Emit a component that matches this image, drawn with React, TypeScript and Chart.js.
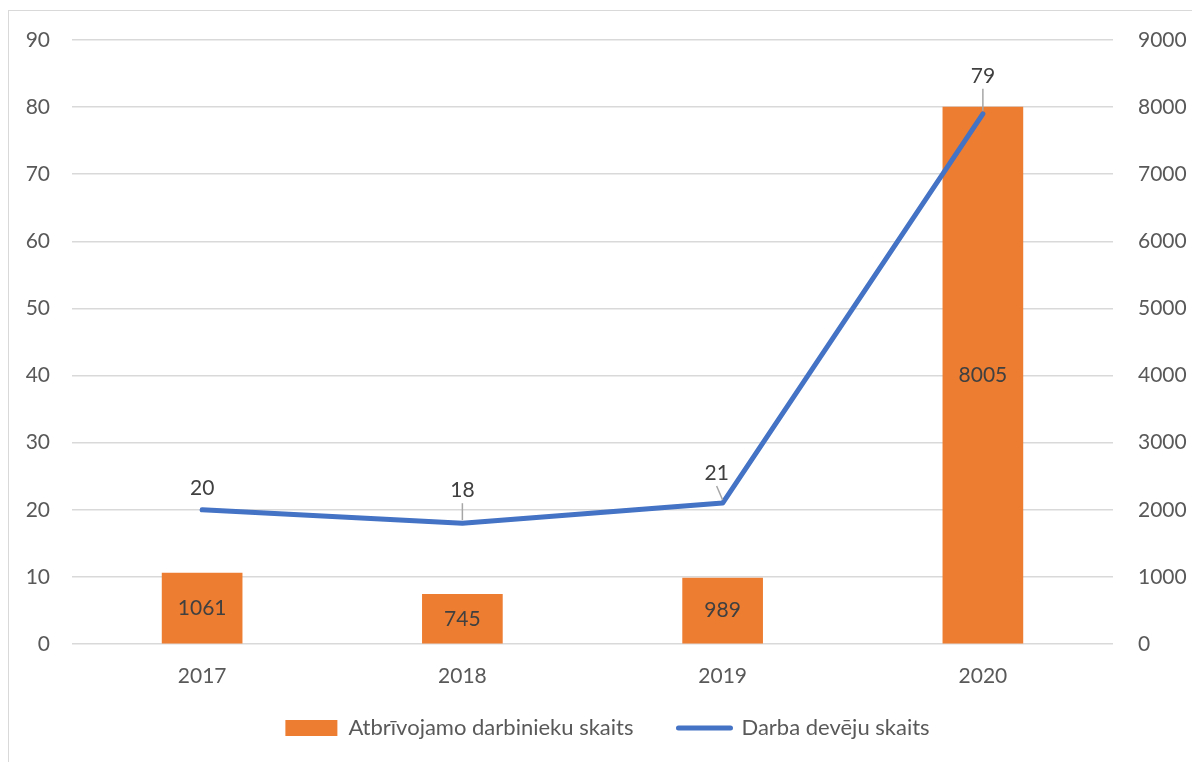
import React, { useEffect, useRef } from 'react';
import { Chart, registerables } from 'chart.js';

Chart.register(...registerables);

const categories = ['2017', '2018', '2019', '2020'];
const releasedWorkers = [1061, 745, 989, 8005];
const employers = [20, 18, 21, 79];
const barLabel = 'Atbrīvojamo darbinieku skaits';
const lineLabel = 'Darba devēju skaits';

// label placement styling for line values (dx, dy from point) and leader lines
const lineLabelOffsets = [[0, -22], [0, -33], [-6, -30], [0, -38]];
const lineLabelLeaders = [false, true, true, true];

const FONT = 'Lato';
const TICK_COLOR = '#595959';
const LABEL_COLOR = '#404040';
const ORANGE = '#ED7D31';
const BLUE = '#4472C4';

const labelPlugin = {
  id: 'valueLabels',
  afterDatasetsDraw(chart: any) {
    const ctx = chart.ctx;
    ctx.save();
    ctx.textAlign = 'center';
    ctx.textBaseline = 'middle';

    // category labels under the x axis
    const xScale = chart.scales.x;
    ctx.font = `21px ${FONT}`;
    ctx.fillStyle = TICK_COLOR;
    categories.forEach((c, i) => {
      ctx.fillText(c, xScale.getPixelForValue(i), chart.chartArea.bottom + 32);
    });

    ctx.fillStyle = LABEL_COLOR;
    const barMeta = chart.getDatasetMeta(1);
    barMeta.data.forEach((el: any, i: number) => {
      const { x, y, base } = el.getProps(['x', 'y', 'base'], true);
      ctx.fillText(String(releasedWorkers[i]), x, (y + base) / 2);
    });
    const lineMeta = chart.getDatasetMeta(0);
    lineMeta.data.forEach((pt: any, i: number) => {
      const [dx, dy] = lineLabelOffsets[i];
      const lx = pt.x + dx;
      const ly = pt.y + dy;
      if (lineLabelLeaders[i]) {
        ctx.save();
        ctx.strokeStyle = '#a6a6a6';
        ctx.lineWidth = 1.5;
        ctx.beginPath();
        ctx.moveTo(lx, ly + 13);
        ctx.lineTo(pt.x, pt.y - 3);
        ctx.stroke();
        ctx.restore();
      }
      ctx.fillText(String(employers[i]), lx, ly);
    });
    ctx.restore();
  },
};

export default function App() {
  const canvasRef = useRef<HTMLCanvasElement | null>(null);

  useEffect(() => {
    if (!canvasRef.current) return;
    Chart.defaults.font.family = FONT;
    Chart.defaults.font.size = 21;
    Chart.defaults.color = TICK_COLOR;
    const chart = new Chart(canvasRef.current, {
      type: 'bar',
      data: {
        labels: categories,
        datasets: [
          {
            type: 'line',
            label: lineLabel,
            data: employers,
            borderColor: BLUE,
            backgroundColor: BLUE,
            borderWidth: 5,
            pointRadius: 0,
            tension: 0,
            borderCapStyle: 'round',
            borderJoinStyle: 'round',
            yAxisID: 'y',
            order: 0,
          } as any,
          {
            type: 'bar',
            label: barLabel,
            data: releasedWorkers,
            backgroundColor: ORANGE,
            borderWidth: 0,
            yAxisID: 'y1',
            categoryPercentage: 1,
            barPercentage: 0.31,
            order: 1,
          } as any,
        ],
      },
      options: {
        animation: false,
        responsive: false,
        maintainAspectRatio: false,
        layout: { padding: { top: 29, bottom: 13, left: 14, right: 0 } },
        plugins: {
          tooltip: { enabled: false },
          legend: {
            position: 'bottom',
            labels: {
              usePointStyle: true,
              pointStyleWidth: 52,
              boxHeight: 16,
              padding: 45,
              color: TICK_COLOR,
              font: { family: FONT, size: 22 },
              generateLabels: () => [
                {
                  text: barLabel,
                  fillStyle: ORANGE,
                  strokeStyle: ORANGE,
                  lineWidth: 0,
                  pointStyle: 'rect',
                  hidden: false,
                  datasetIndex: 1,
                  fontColor: TICK_COLOR,
                },
                {
                  text: lineLabel,
                  fillStyle: BLUE,
                  strokeStyle: BLUE,
                  lineWidth: 5,
                  lineCap: 'round',
                  pointStyle: 'line',
                  hidden: false,
                  datasetIndex: 0,
                  fontColor: TICK_COLOR,
                },
              ] as any,
            },
          },
        },
        scales: {
          x: {
            offset: true,
            grid: { display: false, drawTicks: false },
            border: { display: false },
            ticks: { display: false },
            afterFit: (s: any) => { s.height = 28; },
          },
          y: {
            position: 'left',
            min: 0,
            max: 90,
            grid: {
              color: '#d9d9d9',
              lineWidth: 1.5,
              drawTicks: true,
              tickLength: 19,
              tickColor: 'rgba(0,0,0,0)',
            },
            border: { display: false },
            ticks: { stepSize: 10, padding: 3, color: TICK_COLOR, font: { family: FONT, size: 21 } },
            afterFit: (s: any) => { s.width = 49; },
          },
          y1: {
            position: 'right',
            min: 0,
            max: 9000,
            grid: {
              drawOnChartArea: false,
              drawTicks: true,
              tickLength: 22,
              tickColor: 'rgba(0,0,0,0)',
            },
            border: { display: false },
            ticks: {
              stepSize: 1000,
              padding: 3,
              color: TICK_COLOR,
              font: { family: FONT, size: 21 },
              callback: (v: any) => String(v),
            },
            afterFit: (s: any) => { s.width = 79; },
          },
        },
      },
      plugins: [labelPlugin],
    } as any);
    return () => chart.destroy();
  }, []);

  return (
    <div style={{ position: 'fixed', inset: 0, overflow: 'hidden', background: '#fff' }}>
      <div
        style={{
          position: 'absolute',
          left: 8,
          top: 10,
          width: 1200,
          height: 800,
          border: '1px solid #d9d9d9',
          boxSizing: 'border-box',
        }}
      />
      <canvas
        ref={canvasRef}
        width={1183}
        height={751}
        style={{ position: 'absolute', left: 9, top: 11, width: 1183, height: 751 }}
      />
    </div>
  );
}
